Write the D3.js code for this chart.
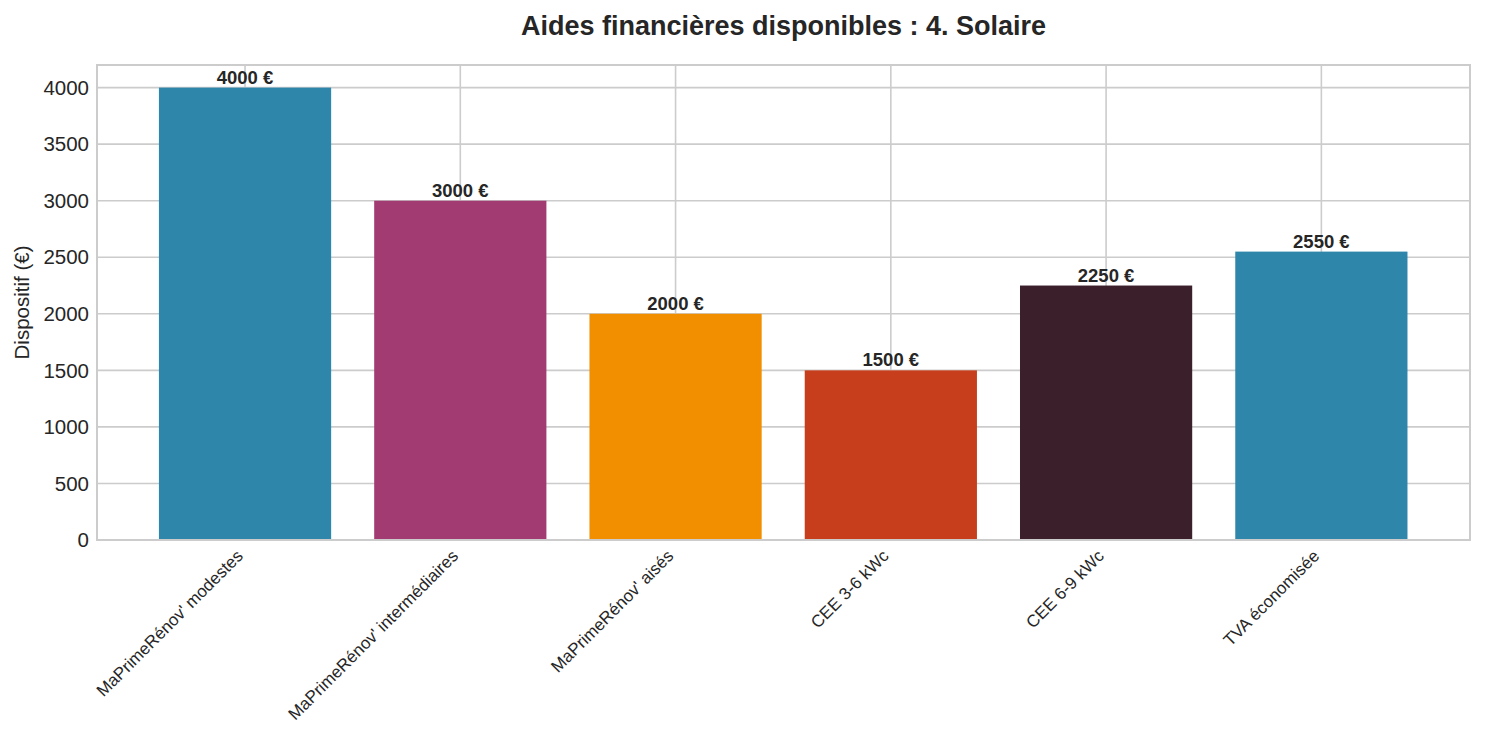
<!DOCTYPE html>
<html><head><meta charset="utf-8">
<script src="https://cdn.jsdelivr.net/npm/d3@7"></script>
<style>body{margin:0;background:#fff;} text{font-family:"Liberation Sans",Arial,sans-serif;fill:#262626;}</style>
</head><body>
<svg id="c" width="1485" height="734"></svg>
<script>
const categories = ["MaPrimeRénov' modestes","MaPrimeRénov' intermédiaires","MaPrimeRénov' aisés","CEE 3-6 kWc","CEE 6-9 kWc","TVA économisée"];
const values = [4000, 3000, 2000, 1500, 2250, 2550];
const colors = ["#2E86AB","#A23B72","#F18F01","#C73E1D","#3B1F2B","#2E86AB"];
const yTicks = [0,500,1000,1500,2000,2500,3000,3500,4000];
const title = "Aides financières disponibles : 4. Solaire";
const yLabel = "Dispositif (€)";

const svg = d3.select("#c");
const L=97, R=1470, T=65, B=540;
const x = d3.scaleBand().domain(categories).range([137.4,1429]).paddingInner(0.2).paddingOuter(0.1);
const y = d3.scaleLinear().domain([0,4200]).range([B,T]);

// grid
svg.append("g").selectAll("line").data(yTicks).join("line")
  .attr("x1",L).attr("x2",R).attr("y1",d=>y(d)).attr("y2",d=>y(d))
  .attr("stroke","#cccccc").attr("stroke-width",1.6);
svg.append("g").selectAll("line").data(categories).join("line")
  .attr("x1",d=>x(d)+x.bandwidth()/2).attr("x2",d=>x(d)+x.bandwidth()/2).attr("y1",T).attr("y2",B)
  .attr("stroke","#cccccc").attr("stroke-width",1.6);

// bars
svg.append("g").selectAll("rect").data(values).join("rect")
  .attr("x",(d,i)=>x(categories[i])).attr("width",x.bandwidth())
  .attr("y",d=>y(d)).attr("height",d=>B-y(d)).attr("fill",(d,i)=>colors[i]);

// frame
svg.append("rect").attr("x",L).attr("y",T).attr("width",R-L).attr("height",B-T)
  .attr("fill","none").attr("stroke","#cccccc").attr("stroke-width",2);

// value labels
svg.append("g").selectAll("text").data(values).join("text")
  .attr("x",(d,i)=>x(categories[i])+x.bandwidth()/2).attr("y",d=>y(d)-4)
  .attr("text-anchor","middle").attr("font-weight","bold").attr("font-size",18.5)
  .text(d=>d+" €");

// y ticks
svg.append("g").selectAll("text").data(yTicks).join("text")
  .attr("x",L-8).attr("y",d=>y(d)).attr("dy","0.35em")
  .attr("text-anchor","end").attr("font-size",20.5).text(d=>d);

// x ticks
svg.append("g").selectAll("text").data(categories).join("text")
  .attr("transform",d=>`translate(${x(d)+x.bandwidth()/2-1},557) rotate(-45)`)
  .attr("text-anchor","end").attr("font-size",17).text(d=>d);

// y label
svg.append("text").attr("transform",`translate(29,${(T+B)/2}) rotate(-90)`)
  .attr("text-anchor","middle").attr("font-size",20.5).text(yLabel);

// title
svg.append("text").attr("x",(L+R)/2).attr("y",35).attr("text-anchor","middle")
  .attr("font-weight","bold").attr("font-size",27).text(title);
</script>
</body></html>
